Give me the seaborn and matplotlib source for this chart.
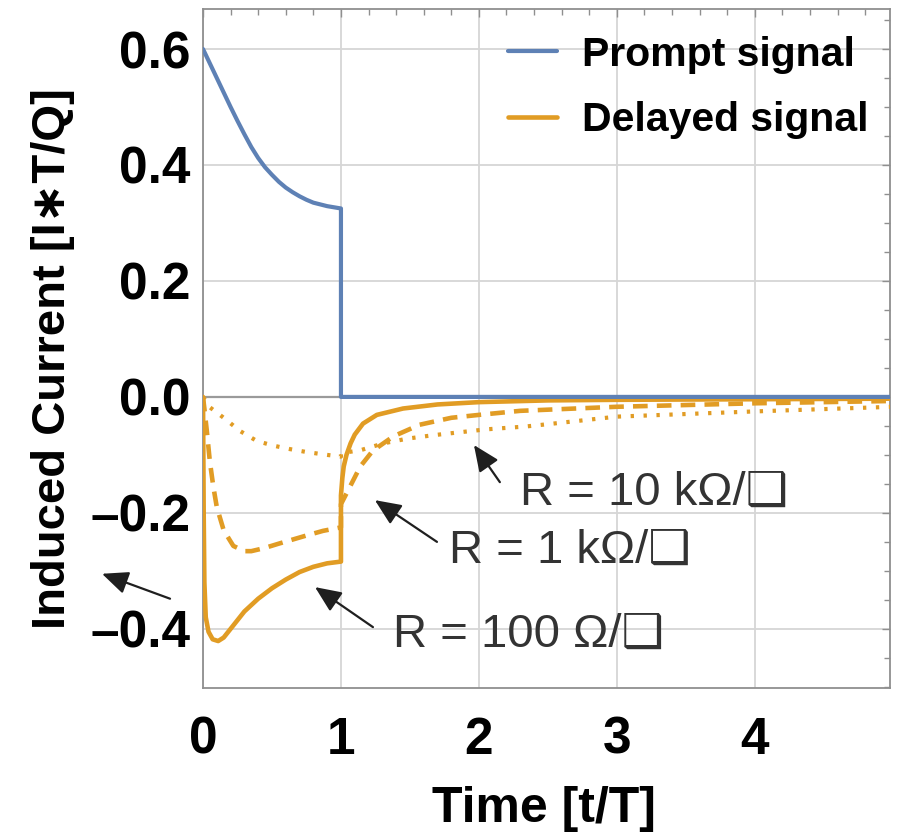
import numpy as np
import pandas as pd
import matplotlib
matplotlib.use("Agg")
import matplotlib.pyplot as plt
from matplotlib.ticker import MultipleLocator
import seaborn as sns

# Prompt signal (induced current, units I*T/Q) vs time t/T
t_prompt = [0.0, 0.05, 0.1, 0.15, 0.2, 0.25, 0.3, 0.35, 0.4, 0.45, 0.5, 0.55, 0.6, 0.65, 0.7,
            0.75, 0.8, 0.85, 0.9, 0.95, 1.0, 1.0, 5.0]
i_prompt = [0.600, 0.575, 0.550, 0.525, 0.500, 0.476, 0.453, 0.431, 0.412, 0.396, 0.383, 0.371,
            0.361, 0.353, 0.346, 0.340, 0.335, 0.332, 0.329, 0.327, 0.325, 0.0, 0.0]

# Delayed signal, R = 100 Ohm/sq
t_r100 = [0.0, 0.005, 0.01, 0.02, 0.04, 0.07, 0.11, 0.15, 0.2, 0.3, 0.4, 0.5, 0.6, 0.7, 0.8, 0.9, 1.0,
          1.0, 1.01, 1.02, 1.04, 1.07, 1.1, 1.16, 1.26, 1.45, 1.7, 2.0, 2.5, 3.0, 4.0, 5.0]
i_r100 = [0.0, -0.20, -0.32, -0.38, -0.405, -0.418, -0.421, -0.415, -0.400, -0.370, -0.348, -0.330,
          -0.315, -0.302, -0.293, -0.287, -0.284,
          -0.170, -0.140, -0.120, -0.100, -0.080, -0.065, -0.046, -0.031, -0.020, -0.013, -0.009,
          -0.006, -0.005, -0.004, -0.003]

# Delayed signal, R = 1 kOhm/sq
t_r1k = [0.0, 0.01, 0.027, 0.05, 0.075, 0.1, 0.15, 0.22, 0.3, 0.35, 0.44, 0.55, 0.65, 0.75, 0.87, 1.0,
         1.0, 1.065, 1.14, 1.23, 1.38, 1.57, 1.8, 2.0, 2.3, 3.0, 4.0, 5.0]
i_r1k = [0.0, -0.020, -0.057, -0.112, -0.155, -0.190, -0.230, -0.257, -0.266, -0.266, -0.261, -0.253,
         -0.246, -0.239, -0.231, -0.225,
         -0.185, -0.155, -0.120, -0.093, -0.068, -0.048, -0.036, -0.031, -0.024, -0.017, -0.011, -0.007]

# Delayed signal, R = 10 kOhm/sq
t_r10k = [0.0, 0.05, 0.15, 0.27, 0.39, 0.51, 0.63, 0.75, 0.9, 1.0,
          1.0, 1.14, 1.31, 1.48, 1.67, 1.86, 2.05, 2.34, 2.5, 3.0, 4.0, 5.0]
i_r10k = [0.0, -0.018, -0.036, -0.059, -0.076, -0.084, -0.090, -0.095, -0.100, -0.103,
          -0.097, -0.092, -0.080, -0.072, -0.066, -0.061, -0.056, -0.051, -0.047, -0.034, -0.025, -0.017]

legend_labels = ["Prompt signal", "Delayed signal"]
curve_labels = ["R = 100 \u03a9/\u2751", "R = 1 k\u03a9/\u2751", "R = 10 k\u03a9/\u2751"]

BLUE = "#5E81B5"
ORANGE = "#E19C24"
GRID = "#d6d6d6"
FRAME = "#8f8f8f"
TEXT = "#333333"

sns.set_style("white")
plt.rcParams["font.family"] = ["Liberation Sans", "DejaVu Sans"]
plt.rcParams["axes.unicode_minus"] = True
plt.rcParams["text.color"] = "black"

fig = plt.figure(figsize=(8.97, 8.36), dpi=100)
ax = fig.add_axes([203 / 897, 1 - 688 / 836, 687 / 897, 679 / 836])

ax.set_xlim(0, 4.98)
ax.set_ylim(-0.502, 0.669)

ax.xaxis.set_major_locator(MultipleLocator(1))
ax.xaxis.set_minor_locator(MultipleLocator(0.2))
ax.yaxis.set_major_locator(MultipleLocator(0.2))
ax.yaxis.set_minor_locator(MultipleLocator(0.05))
ax.grid(True, which="major", color=GRID, lw=1.3, zorder=0)
ax.axhline(0, color="#9a9a9a", lw=1.6, zorder=1)

prompt = pd.DataFrame({"t": t_prompt, "i": i_prompt})
r100 = pd.DataFrame({"t": t_r100, "i": i_r100})
r1k = pd.DataFrame({"t": t_r1k, "i": i_r1k})
r10k = pd.DataFrame({"t": t_r10k, "i": i_r10k})

sns.lineplot(data=r10k, x="t", y="i", ax=ax, sort=False, estimator=None, color=ORANGE,
             lw=3.0, label="_nolegend_", zorder=3)
ax.lines[-1].set_dashes([0.8, 2.3])
ax.lines[-1].set_dash_capstyle("butt")
sns.lineplot(data=r1k, x="t", y="i", ax=ax, sort=False, estimator=None, color=ORANGE,
             lw=3.3, label="_nolegend_", zorder=3)
ax.lines[-1].set_dashes([3.2, 2.0])
ax.lines[-1].set_dash_capstyle("butt")
sns.lineplot(data=r100, x="t", y="i", ax=ax, sort=False, estimator=None, color=ORANGE,
             lw=3.3, label=legend_labels[1], zorder=4)
sns.lineplot(data=prompt, x="t", y="i", ax=ax, sort=False, estimator=None, color=BLUE,
             lw=3.0, label=legend_labels[0], zorder=5)

for s in ax.spines.values():
    s.set_color(FRAME)
    s.set_linewidth(1.3)

ax.tick_params(which="both", direction="in", top=True, right=True, color=FRAME, width=1.0)
ax.tick_params(which="major", length=6)
ax.tick_params(which="minor", length=4)
ax.tick_params(axis="x", which="major", pad=20)
ax.tick_params(axis="y", which="major", pad=9)

ax.set_xticks([0, 1, 2, 3, 4])
ax.set_xticklabels(["0", "1", "2", "3", "4"])
yt = [-0.4, -0.2, 0.0, 0.2, 0.4, 0.6]
ax.set_yticks(yt)
ax.set_yticklabels([f"{v:.1f}".replace("-", "\u2013") for v in yt])
for lab in ax.get_xticklabels() + ax.get_yticklabels():
    lab.set_fontsize(37)
    lab.set_fontweight("bold")
    lab.set_color("black")

xl = ax.set_xlabel("Time [t/T]", fontsize=36, fontweight="bold", color="black")
xl.set_va("baseline")
ax.set_ylabel("Induced Current [I\u2217T/Q]", fontsize=34, fontweight="bold", color="black")
ax.xaxis.set_label_coords(0.496, -0.197)
ax.yaxis.set_label_coords(-0.186, 0.485)

handles, labels = ax.get_legend_handles_labels()
order = [labels.index(legend_labels[0]), labels.index(legend_labels[1])]
leg = ax.legend([handles[k] for k in order], [labels[k] for k in order],
                loc="upper left", bbox_to_anchor=(0.42, 0.985), frameon=False,
                prop={"weight": "bold", "size": 29.5}, handlelength=1.2,
                handletextpad=0.62, labelspacing=0.68, borderaxespad=0)
for txt in leg.get_texts():
    txt.set_color("black")

arrow = dict(arrowstyle="-|>,head_length=1.6,head_width=0.7", color="#1f1f1f", lw=1.6,
             shrinkA=0, shrinkB=0)
# curve labels with pointer arrows
ax.annotate("", xy=(1.964, -0.083), xytext=(2.152, -0.147), arrowprops=arrow)
ax.text(2.297, -0.186, curve_labels[2], fontsize=34, color=TEXT, va="baseline", ha="left")
ax.annotate("", xy=(1.246, -0.178), xytext=(1.696, -0.250), arrowprops=arrow)
ax.text(1.783, -0.286, curve_labels[1], fontsize=34, color=TEXT, va="baseline", ha="left")
ax.annotate("", xy=(0.812, -0.328), xytext=(1.232, -0.397), arrowprops=arrow)
ax.text(1.377, -0.431, curve_labels[0], fontsize=34, color=TEXT, va="baseline", ha="left")
ax.annotate("", xy=(-0.732, -0.305), xytext=(-0.239, -0.348), arrowprops=arrow,
            annotation_clip=False)

fig.savefig("out.png", dpi=100)
